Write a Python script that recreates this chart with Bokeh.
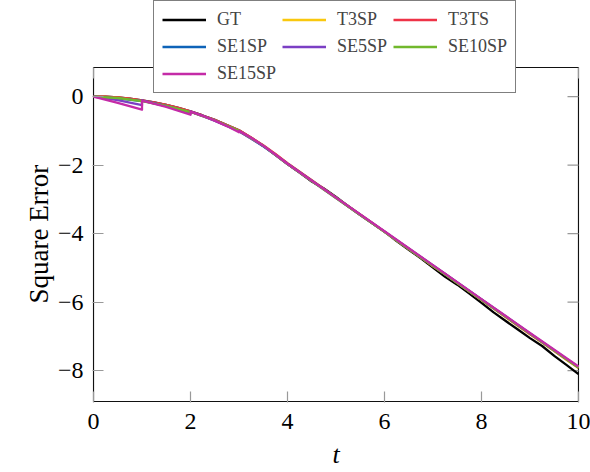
from bokeh.plotting import figure
from bokeh.models import Range1d, Legend, LegendItem, FixedTicker, Title
from bokeh.embed import file_html
from bokeh.resources import INLINE

# ---- data ----
t_grid = [0, 0.25, 0.5, 0.75, 1, 1.25, 1.5, 1.75, 2, 2.25, 2.5, 2.75, 3, 3.25, 3.5, 3.75,
          4, 4.25, 4.5, 4.75, 5, 5.25, 5.5, 5.75, 6, 6.25, 6.5, 6.75, 7, 7.25, 7.5, 7.75,
          8, 8.25, 8.5, 8.75, 9, 9.25, 9.5, 9.75, 10]
gt = [0, 0.0, -0.02, -0.06, -0.11, -0.17, -0.24, -0.33, -0.43, -0.55, -0.68, -0.83, -0.98,
      -1.20, -1.44, -1.70, -1.97, -2.22, -2.48, -2.68, -2.93, -3.20, -3.46, -3.70, -3.94,
      -4.22, -4.47, -4.72, -4.99, -5.26, -5.49, -5.75, -6.02, -6.30, -6.55, -6.80, -7.05,
      -7.28, -7.57, -7.83, -8.10]
t3sp = [0, -0.01, -0.03, -0.07, -0.12, -0.18, -0.25, -0.34, -0.44, -0.56, -0.69, -0.84, -0.99,
        -1.20, -1.43, -1.68, -1.95, -2.20, -2.45, -2.70, -2.95, -3.20, -3.45, -3.70, -3.95,
        -4.20, -4.45, -4.70, -4.95, -5.19, -5.44, -5.69, -5.94, -6.19, -6.44, -6.69, -6.94,
        -7.18, -7.43, -7.68, -7.92]
t3ts = [0, 0.0, -0.02, -0.06, -0.11, -0.17, -0.24, -0.33, -0.43, -0.55, -0.68, -0.83, -0.98,
        -1.19, -1.42, -1.67, -1.94, -2.19, -2.44, -2.69, -2.94, -3.19, -3.44, -3.69, -3.94,
        -4.19, -4.44, -4.69, -4.94, -5.18, -5.43, -5.68, -5.93, -6.18, -6.43, -6.68, -6.93,
        -7.17, -7.42, -7.67, -7.91]
t_se1 = [0, 0.5, 1, 1, 1.5, 2, 2, 2.25, 2.5, 2.75, 3, 3.25, 3.5, 3.75, 4, 5, 6, 7, 8, 9, 10]
se1 = [0, -0.05, -0.13, -0.12, -0.27, -0.47, -0.44, -0.56, -0.70, -0.85, -1.01, -1.22, -1.45,
       -1.70, -1.96, -2.95, -3.94, -4.93, -5.92, -6.91, -7.90]
t_se5 = [0, 0.5, 1, 1, 1.5, 2, 2, 2.5, 3, 3.5, 4, 5, 6, 7, 8, 9, 10]
se5 = [0, -0.10, -0.25, -0.12, -0.28, -0.50, -0.44, -0.70, -1.01, -1.44, -1.97, -2.96, -3.95,
       -4.94, -5.93, -6.92, -7.90]
t_se10 = [0, 0.5, 1, 1.5, 2, 2.5, 3, 3.5, 4, 5, 6, 7, 8, 9, 10]
se10 = [0, -0.04, -0.13, -0.27, -0.45, -0.69, -1.00, -1.43, -1.97, -2.96, -3.95, -4.94,
        -5.93, -6.92, -7.91]
t_se15 = [0, 0.5, 1, 1, 1.5, 2, 2, 2.25, 2.5, 2.75, 3, 3, 3.25, 3.5, 3.75, 4, 5, 6, 7, 8, 9, 10]
se15 = [0, -0.18, -0.38, -0.12, -0.30, -0.53, -0.44, -0.56, -0.70, -0.86, -1.04, -1.00,
        -1.20, -1.43, -1.69, -1.96, -2.95, -3.93, -4.92, -5.91, -6.90, -7.88]

x_ticks = [0, 2, 4, 6, 8, 10]
y_ticks = [0, -2, -4, -6, -8]
y_labels = {0: "0", -2: "\u22122", -4: "\u22124", -6: "\u22126", -8: "\u22128"}

names = ["GT", "T3SP", "T3TS", "SE1SP", "SE5SP", "SE10SP", "SE15SP"]
colors = ["#000000", "#F9C80E", "#EE3347", "#0E63B8", "#7B3FC4", "#71B82C", "#C42BA7"]

X_MIN, X_MAX = 0, 10
Y_MIN, Y_MAX = -8.9, 0.85

FONT = "Liberation Serif"

# ---- layout geometry (pixels) ----
BOX_L, BOX_R, BOX_T, BOX_B = 93, 578, 67, 401
kx = (BOX_R - BOX_L) / (X_MAX - X_MIN)
ky = (BOX_B - BOX_T) / (Y_MAX - Y_MIN)
TICK = 11

p = figure(width=590, height=472, output_backend="svg", toolbar_location=None,
           x_range=Range1d(X_MIN - 1 / kx, X_MAX + 1 / kx),
           y_range=Range1d(Y_MIN - 1 / ky, Y_MAX + BOX_T / ky),
           min_border_left=BOX_L - 1, min_border_right=590 - BOX_R - 1,
           min_border_top=0, min_border_bottom=472 - BOX_B - 1)
p.xgrid.visible = False
p.ygrid.visible = False
p.outline_line_color = None
p.background_fill_color = "white"
p.border_fill_color = "white"

# axes box
p.line([X_MIN, X_MAX, X_MAX, X_MIN, X_MIN], [Y_MIN, Y_MIN, Y_MAX, Y_MAX, Y_MIN],
       line_color="#111111", line_width=1.2)
# top and right ticks
p.segment(x0=x_ticks, x1=x_ticks, y0=[Y_MAX] * len(x_ticks),
          y1=[Y_MAX - TICK / ky] * len(x_ticks), line_color="#999999", line_width=1.2)
p.segment(x0=[X_MAX] * len(y_ticks), x1=[X_MAX - TICK / kx] * len(y_ticks),
          y0=y_ticks, y1=y_ticks, line_color="#999999", line_width=1.2)

series = [(t_grid, gt), (t_grid, t3sp), (t_grid, t3ts), (t_se1, se1),
          (t_se5, se5), (t_se10, se10), (t_se15, se15)]
renderers = []
for (xs, ys), c in zip(series, colors):
    r = p.line(xs, ys, line_color=c, line_width=2.3, line_join="round")
    renderers.append(r)

for ax in [p.xaxis[0], p.yaxis[0]]:
    ax.major_tick_in = TICK
    ax.major_tick_out = 0
    ax.minor_tick_in = 0
    ax.minor_tick_out = 0
    ax.major_tick_line_color = "#999999"
    ax.major_tick_line_width = 1.2
    ax.axis_line_color = None
    ax.major_label_text_font = FONT
    ax.major_label_text_font_size = "24px"
    ax.major_label_text_color = "black"

p.xaxis[0].ticker = FixedTicker(ticks=x_ticks)
p.yaxis[0].ticker = FixedTicker(ticks=y_ticks)
p.yaxis[0].major_label_overrides = y_labels
p.xaxis[0].major_label_standoff = 11
p.yaxis[0].major_label_standoff = 9
p.xaxis[0].axis_label = "t"
p.xaxis[0].axis_label_text_font = FONT
p.xaxis[0].axis_label_text_font_size = "26px"
p.xaxis[0].axis_label_text_font_style = "italic"
p.xaxis[0].axis_label_text_color = "black"
p.xaxis[0].axis_label_standoff = 8

ylab_len = 138
ylab_center = (BOX_T + BOX_B) / 2
ytitle = Title(text="Square Error", align="left",
               offset=(BOX_B + 1) - (ylab_center + ylab_len / 2),
               text_font=FONT, text_font_size="27px", text_font_style="normal",
               text_color="black", standoff=2)
p.add_layout(ytitle, "left")

items = [LegendItem(label=n, renderers=[r]) for n, r in zip(names, renderers)]
LEG_L, LEG_B = 153, 93
legend = Legend(items=items, orientation="horizontal", ncols=3,
                location=(LEG_L - (BOX_L - 1), (BOX_B + 1) - LEG_B),
                label_text_font=FONT, label_text_font_size="18px",
                glyph_width=44, glyph_height=21, label_height=21, label_standoff=11,
                spacing=6, padding=8, margin=0,
                border_line_color="black", border_line_width=1,
                background_fill_color="white", background_fill_alpha=1)
p.add_layout(legend, "center")

open("out.html", "w").write(file_html(p, INLINE))
